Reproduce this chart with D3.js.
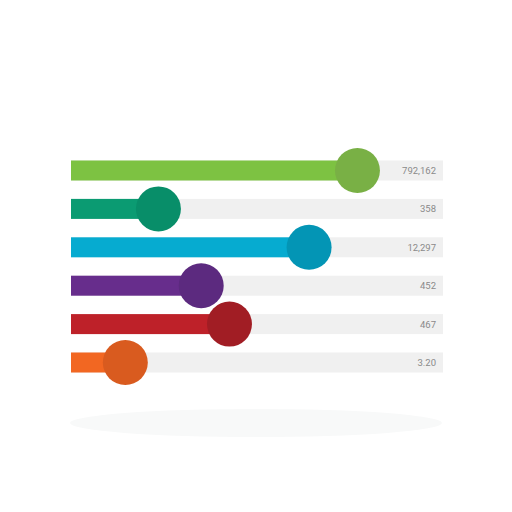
<!DOCTYPE html>
<html><head><meta charset="utf-8">
<script src="https://cdn.jsdelivr.net/npm/d3@7"></script>
<style>html,body{margin:0;padding:0;background:#fff;}svg{display:block;}</style>
</head><body>
<svg id="chart" width="512" height="512"></svg>
<script>
const categories = ["Item 1", "Item 2", "Item 3", "Item 4", "Item 5", "Item 6"];
const percents = [77, 23.5, 64, 35, 42.6, 14.6];
const valueLabels = ["792,162", "358", "12,297", "452", "467", "3.20"];
const barColors = ["#7dc242", "#0b9b72", "#06abd0", "#672d8c", "#be2129", "#f26722"];
const dotColors = ["#79b045", "#088e69", "#0395b5", "#5c2a7f", "#a11d24", "#d95b1f"];

const svg = d3.select("#chart");
const x = d3.scaleLinear().domain([0, 100]).range([71, 443]);
const y = d3.scalePoint().domain(categories).range([170.5, 362.5]);
const barH = 20, r = 22.5;

svg.append("ellipse").attr("cx", 256).attr("cy", 423).attr("rx", 186).attr("ry", 14)
  .attr("fill", "#f8f9f9");

const rows = svg.selectAll("g.row").data(categories).join("g").attr("class", "row");

rows.append("rect")
  .attr("x", x(0)).attr("y", d => y(d) - barH / 2)
  .attr("width", x(100) - x(0)).attr("height", barH)
  .attr("fill", "#f0f0f0");

rows.append("rect")
  .attr("x", x(0)).attr("y", d => y(d) - barH / 2)
  .attr("width", (d, i) => x(percents[i]) - x(0)).attr("height", barH)
  .attr("fill", (d, i) => barColors[i]);

rows.append("circle")
  .attr("cx", (d, i) => x(percents[i])).attr("cy", d => y(d))
  .attr("r", r).attr("fill", (d, i) => dotColors[i]);

rows.append("text")
  .attr("x", x(100) - 7).attr("y", d => y(d) + 3.5)
  .attr("text-anchor", "end")
  .attr("font-family", "Roboto, sans-serif").attr("font-size", 9.5)
  .attr("fill", "#8a8a8a")
  .text((d, i) => valueLabels[i]);
</script>
</body></html>
